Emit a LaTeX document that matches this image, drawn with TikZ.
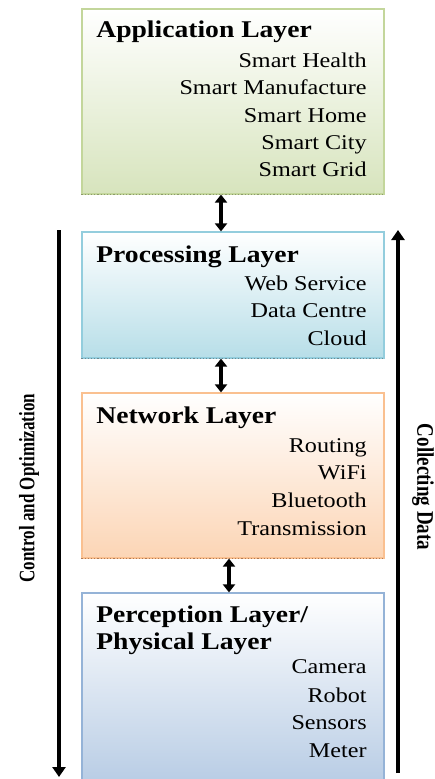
\documentclass[tikz,border=0pt]{standalone}
\usepackage{fontspec}
\setmainfont{Liberation Serif}
\newfontfamily\layerfont[FakeStretch=1.15]{Liberation Serif}
\usetikzlibrary{arrows.meta,positioning}
\definecolor{appfill}{HTML}{D7E4BD}
\definecolor{appline}{HTML}{C3D69B}
\definecolor{appdot}{HTML}{8C9A6A}
\definecolor{procfill}{HTML}{B7DEE8}
\definecolor{procline}{HTML}{93CDDD}
\definecolor{procdot}{HTML}{6E8A92}
\definecolor{netfill}{HTML}{FCD5B5}
\definecolor{netline}{HTML}{FAC090}
\definecolor{netdot}{HTML}{B07A55}
\definecolor{percfill}{HTML}{B9CDE5}
\definecolor{percline}{HTML}{95B3D7}
\tikzset{
  every picture/.style={line width=0.7pt},
  layerbox/.style={rectangle, draw=#1line, line width=1.2pt, top color=white,
                   bottom color=#1fill, minimum width=302pt, inner sep=0pt},
  layertitle/.style={anchor=base west, inner sep=0pt,
                     font=\layerfont\bfseries\fontsize{24}{28}\selectfont},
  itemtext/.style={anchor=base east, inner sep=0pt,
                   font=\layerfont\fontsize{21}{27}\selectfont},
  bottomdots/.style={dotted, line width=1.2pt, draw=#1dot},
  linkarrow/.style={line width=3.4pt,
                    {Triangle[width=12pt,length=8pt]}-{Triangle[width=12pt,length=8pt]}},
  sidearrow/.style={line width=3.4pt, -{Triangle[width=13pt,length=10pt]}},
  sidetext/.style={font=\bfseries\fontsize{#1}{#1}\selectfont, inner sep=0pt},
}
\begin{document}
\begin{tikzpicture}[x=1pt, y=-1pt]
\useasboundingbox (0,0) rectangle (435,779);
\clip (0,0) rectangle (435,779);
% layers
\node[layerbox=app, minimum height=185pt] (app) at (233,101.5) {};
\node[layerbox=proc, minimum height=126pt] (proc) at (233,295) {};
\node[layerbox=net, minimum height=165pt] (net) at (233,475.5) {};
\node[layerbox=perc, minimum height=188pt] (perc) at (233,687) {};
\draw[bottomdots=app] (app.south west) -- (app.south east);
\draw[bottomdots=proc] (proc.south west) -- (proc.south east);
\draw[bottomdots=net] (net.south west) -- (net.south east);

\node[layertitle] (apptitle) at (96,37) {Application Layer};
\foreach \txt/\y [count=\i] in {Smart Health/67, Smart Manufacture/94,
    Smart Home/122, Smart City/149, Smart Grid/176}
  \node[itemtext] (app\i) at (367,\y) {\txt};

\node[layertitle] (proctitle) at (96,262) {Processing Layer};
\foreach \txt/\y [count=\i] in {Web Service/290, Data Centre/317, Cloud/345}
  \node[itemtext] (proc\i) at (367,\y) {\txt};

\node[layertitle] (nettitle) at (96,423) {Network Layer};
\foreach \txt/\y [count=\i] in {Routing/452, WiFi/479, Bluetooth/507,
    Transmission/535}
  \node[itemtext] (net\i) at (367,\y) {\txt};

\node[layertitle] (perctitle) at (96,622) {Perception Layer/};
\node[layertitle] (perctitleb) at (96,649) {Physical Layer};
\foreach \txt/\y [count=\i] in {Camera/673, Robot/702, Sensors/729, Meter/757}
  \node[itemtext] (perc\i) at (367,\y) {\txt};

% links between layers
\draw[linkarrow] ([xshift=-12pt]app.south) -- ([xshift=-12pt]proc.north);
\draw[linkarrow] ([xshift=-12pt]proc.south) -- ([xshift=-12pt]net.north);
\draw[linkarrow] ([xshift=-4pt]net.south) -- ([xshift=-4pt]perc.north);

% side arrows
\coordinate (ctrltop) at (59,230);
\coordinate (ctrlbot) at (59,777);
\coordinate (colbot) at (398,773);
\coordinate (coltop) at (398,230);
\draw[sidearrow] (ctrltop) -- (ctrlbot);
\draw[sidearrow] (colbot) -- (coltop);
\node[sidetext=17, rotate=90] (ctrltext) at (29,488)
  {\scalebox{1}[1.3]{Control and Optimization}};
\node[sidetext=19, rotate=-90] (coltext) at (423,487)
  {\scalebox{1}[1.25]{Collecting Data}};
\end{tikzpicture}
\end{document}
